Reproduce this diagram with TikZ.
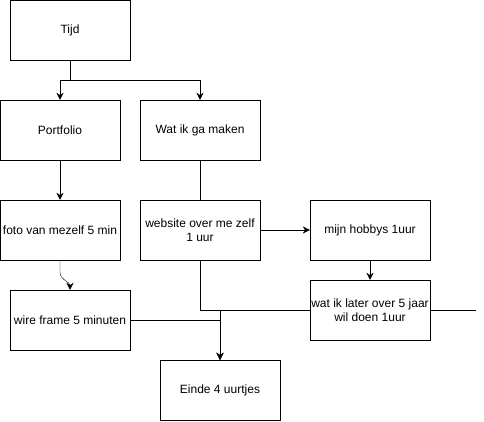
\documentclass[tikz,border=0pt]{standalone}
\usepackage{fontspec}
\setmainfont{Liberation Sans}
\usetikzlibrary{arrows.meta,positioning}

\begin{document}
\begin{tikzpicture}[x=1pt,y=-1pt,on grid,>={Stealth[length=7pt,width=7pt]},
    box/.style={draw,minimum width=120pt,minimum height=60pt,align=center,
                inner sep=1pt,font=\fontsize{12}{14}\selectfont}]
   \useasboundingbox (0,0) rectangle (484,421);
   \node[box] (tijd) at (70,30) {Tijd};
   \node[box] (portfolio) [below left=100pt and 10pt of tijd] {Portfolio};
   \node[box] (wat) [right=140pt of portfolio] {Wat ik ga maken};
   \node[box] (foto) [below=100pt of portfolio] {foto van mezelf 5 min};
   \node[box] (website) [below=100pt of wat] {website over me zelf\\1 uur};
   \node[box] (hobbys) [right=170pt of website] {mijn hobbys 1uur};
   \node[box] (later) [below=80pt of hobbys] {wat ik later over 5 jaar\\wil doen 1uur};
   \node[box] (wire) [below right=90pt and 10pt of foto] {wire frame 5 minuten};
   \node[box] (einde) [below right=160pt and 20pt of website] {Einde 4 uurtjes};
   \coordinate[right=106pt of later] (loose);
    \draw[->] (tijd.south) -- ++(0,20) -| (portfolio.north);
    \draw[->] (tijd.south) -- ++(0,20) -| (wat.north);
    \draw[->] (portfolio) -- (foto);
    \draw (wat) -- (website);
    \draw[->] (foto.south) -- ++(0,12) .. controls +(0,8) and +(0,-8) .. (wire.north);
    \draw[->] (website) -- (hobbys);
    \draw[->] (hobbys) -- (later);
    \draw[->] (website.south) -- ++(0,50) -| (einde.north);
    \draw[->] (later.west) -| (einde.north);
    \draw[->] (wire.east) -| (einde.north);
    \draw (later) -- (loose);
\end{tikzpicture}
\end{document}
